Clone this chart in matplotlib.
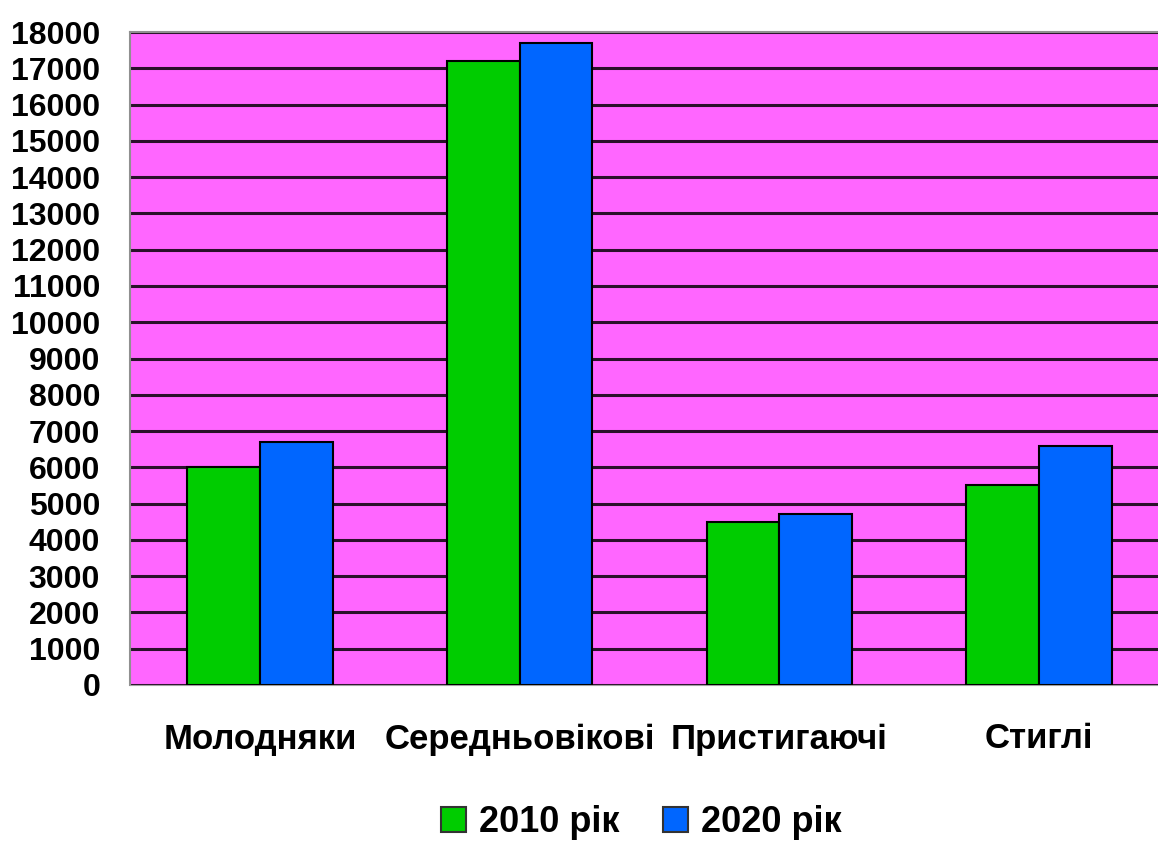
import numpy as np
import matplotlib
matplotlib.use('Agg')
import matplotlib.pyplot as plt
from matplotlib.patches import Patch

# Data
categories = ['Молодняки', 'Середньовікові', 'Пристигаючі', 'Стиглі']
series_names = ['2010 рік', '2020 рік']
values_2010 = [6000, 17200, 4500, 5500]
values_2020 = [6700, 17700, 4700, 6600]
y_ticks = list(range(0, 18001, 1000))

GREEN = '#00cc00'
BLUE = '#0066ff'
MAGENTA = '#ff66ff'

plt.rcParams['font.family'] = ['Liberation Sans', 'DejaVu Sans']
plt.rcParams['font.weight'] = 'bold'

fig = plt.figure(figsize=(11.58, 8.43), dpi=100)
ax = fig.add_axes([130 / 1158, 158 / 843, 1039 / 1158, 653 / 843])
ax.set_facecolor(MAGENTA)

x = np.arange(len(categories))
w = 0.28
ax.bar(x - w / 2, values_2010, width=w, color=GREEN, edgecolor='black', linewidth=1.5, zorder=3)
ax.bar(x + w / 2, values_2020, width=w, color=BLUE, edgecolor='black', linewidth=1.5, zorder=3)

ax.set_xlim(-0.5, 3.5)
ax.set_ylim(0, 18000)
ax.set_yticks(y_ticks)
ax.set_yticklabels([str(v) for v in y_ticks], fontsize=23, fontweight='bold')
ax.set_xticks(x)
ax.set_xticklabels(categories, fontsize=25, fontweight='bold')
ax.tick_params(axis='y', length=0, pad=21.5)
ax.tick_params(axis='x', length=0, pad=27)

ax.yaxis.grid(True, color='#2a102a', linewidth=2.2, zorder=1)
ax.set_axisbelow(True)
for side in ['left', 'top']:
    ax.spines[side].set_color('#909090')
    ax.spines[side].set_linewidth(1.5)
ax.spines['bottom'].set_color('#a0a0a0')
ax.spines['right'].set_visible(False)

handles = [Patch(facecolor=GREEN, edgecolor='#333333', linewidth=1.5),
           Patch(facecolor=BLUE, edgecolor='#333333', linewidth=1.5)]
fig.legend(handles, series_names, loc='center', bbox_to_anchor=(0.554, 0.024),
           ncol=2, frameon=False, prop={'size': 26, 'weight': 'bold'},
           handlelength=0.69, handleheight=0.69, handletextpad=0.36,
           columnspacing=1.2, borderpad=0.1)

plt.savefig('out.png', dpi=100)
